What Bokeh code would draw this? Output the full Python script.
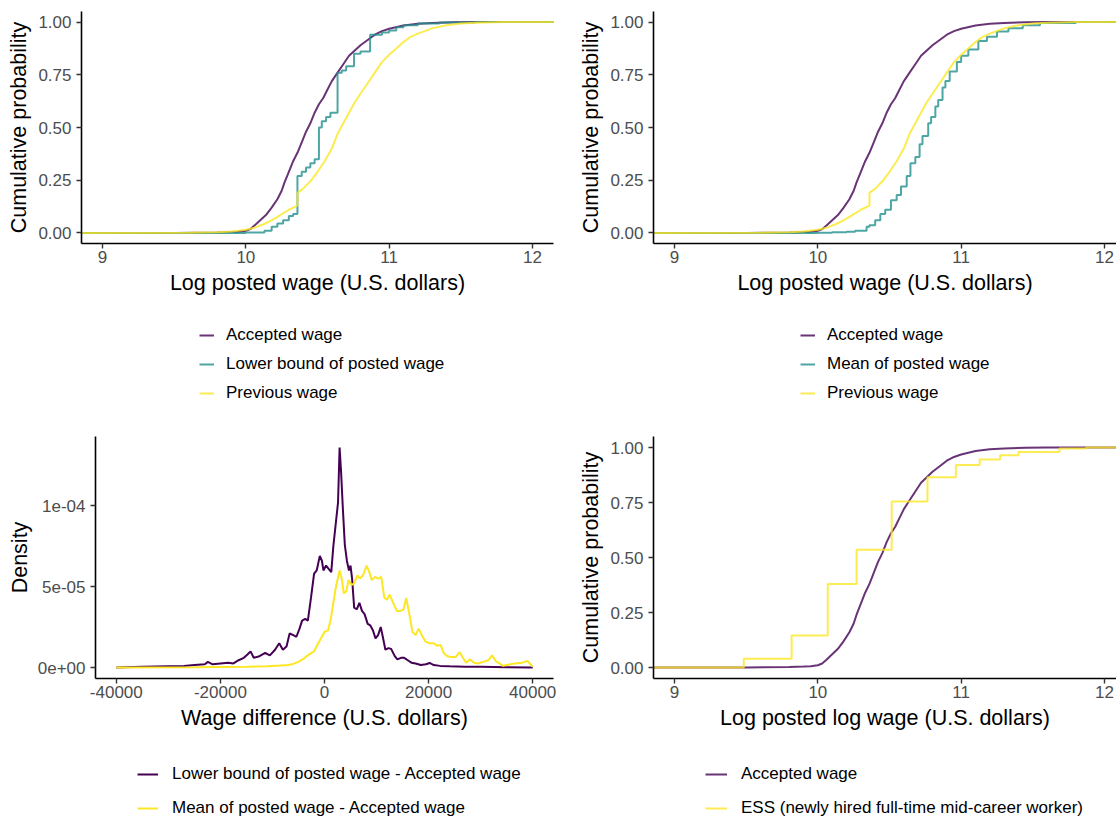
from bokeh.plotting import figure
from bokeh.models import Legend, LegendItem, FixedTicker, Range1d, CustomJSTickFormatter
from bokeh.layouts import column, row
from bokeh.embed import file_html
from bokeh.resources import INLINE

# ---------------- data ----------------
# Accepted wage ECDF (log wage)
acc_x = [9.5, 9.8, 9.9, 9.95, 10.0, 10.03, 10.06, 10.1, 10.14, 10.18, 10.22, 10.25, 10.27, 10.3,
         10.33, 10.36, 10.39, 10.42, 10.45, 10.48, 10.51, 10.54, 10.57, 10.6, 10.64, 10.68, 10.72,
         10.76, 10.8, 10.85, 10.9, 10.95, 11.0, 11.1, 11.2, 11.3, 11.45, 11.6, 11.9]
acc_y = [0.0, 0.002, 0.004, 0.006, 0.01, 0.018, 0.035, 0.06, 0.085, 0.12, 0.16, 0.2, 0.24, 0.29,
         0.34, 0.38, 0.43, 0.48, 0.52, 0.57, 0.61, 0.64, 0.68, 0.72, 0.76, 0.8, 0.84,
         0.865, 0.89, 0.915, 0.94, 0.957, 0.968, 0.984, 0.992, 0.996, 0.999, 1.0, 1.0]

# Lower bound of posted wage ECDF (step)
low_x = [10.0, 10.13, 10.18, 10.22, 10.26, 10.3, 10.33, 10.36, 10.39, 10.42, 10.45, 10.48, 10.51,
         10.53, 10.56, 10.59, 10.64, 10.67, 10.7, 10.755, 10.8, 10.867, 10.95, 11.0, 11.05, 11.1,
         11.2, 11.35, 11.6]
low_y = [0.002, 0.01, 0.03, 0.045, 0.06, 0.08, 0.09, 0.27, 0.29, 0.31, 0.33, 0.35, 0.5,
         0.53, 0.55, 0.57, 0.76, 0.77, 0.79, 0.85, 0.86, 0.94, 0.95, 0.96, 0.975, 0.985,
         0.993, 0.998, 1.0]

# Mean of posted wage ECDF (step)
mean_x = [10.0, 10.1, 10.2, 10.26, 10.34, 10.36, 10.4, 10.436, 10.47, 10.51, 10.55, 10.58, 10.62,
          10.646, 10.68, 10.71, 10.73, 10.77, 10.79, 10.82, 10.84, 10.87, 10.89, 10.92, 10.97,
          11.0, 11.05, 11.12, 11.18, 11.25, 11.33, 11.43, 11.55, 11.8]
mean_y = [0.001, 0.003, 0.006, 0.01, 0.03, 0.036, 0.06, 0.09, 0.11, 0.155, 0.18, 0.22, 0.27,
          0.33, 0.36, 0.42, 0.46, 0.52, 0.55, 0.6, 0.63, 0.69, 0.72, 0.765, 0.81,
          0.84, 0.87, 0.91, 0.93, 0.955, 0.97, 0.985, 0.995, 1.0]

# Previous wage ECDF
prev_x = [9.6, 9.8, 9.9, 10.0, 10.06, 10.12, 10.18, 10.24, 10.3, 10.36, 10.36, 10.4, 10.45, 10.5,
          10.55, 10.6, 10.64, 10.68, 10.72, 10.76, 10.8, 10.85, 10.9, 10.95, 11.0, 11.05, 11.1,
          11.15, 11.2, 11.3, 11.4, 11.5, 11.6, 11.8]
prev_y = [0.001, 0.003, 0.007, 0.015, 0.025, 0.04, 0.06, 0.085, 0.11, 0.13, 0.19, 0.21, 0.245, 0.29,
          0.34, 0.4, 0.47, 0.52, 0.57, 0.62, 0.66, 0.71, 0.76, 0.81, 0.845, 0.875, 0.905,
          0.93, 0.945, 0.97, 0.985, 0.993, 0.997, 1.0]

# ESS (newly hired full-time mid-career worker) ECDF (step)
ess_x = [9.483, 9.817, 10.069, 10.27, 10.515, 10.765, 10.963, 11.129, 11.272, 11.4, 11.686, 11.871]
ess_y = [0.04, 0.145, 0.38, 0.535, 0.755, 0.865, 0.92, 0.945, 0.965, 0.98, 0.995, 1.0]

# Density of wage differences
dlow_x = [-40000, -35000, -30000, -27000, -25000, -23000, -22400, -21500, -20000, -18500, -17500,
          -16500, -15500, -14800, -14200, -13600, -12500, -11400, -10500, -9500, -8700, -8000,
          -7300, -6700, -6000, -5400, -4800, -4300, -3700, -3200, -2600, -2000, -1500, -900, -500,
          -200, 300, 800, 1300, 1700, 2200, 2600, 2900, 3200, 3500, 3900, 4300, 4700, 5000, 5300,
          5700, 6200, 6700, 7200, 7700, 8300, 8800, 9300, 9800, 10300, 10800, 11200, 11700, 12300,
          12800, 13500, 14000, 14700, 15300, 16000, 16700, 17500, 18500, 19500, 20200, 21000,
          22200, 24000, 27000, 30000, 35000, 40000]
dlow_y = [0.0, 0.04, 0.08, 0.1, 0.15, 0.2, 0.35, 0.2, 0.25, 0.3, 0.25,
          0.45, 0.6, 0.8, 1.0, 0.6, 0.7, 0.9, 0.75, 1.1, 1.5, 1.1,
          1.3, 2.1, 2.0, 1.9, 2.4, 2.9, 3.0, 2.9, 4.3, 5.8, 6.0, 6.9, 6.6,
          6.0, 6.3, 6.1, 5.9, 7.5, 9.0, 10.2, 13.6, 12.0, 10.0, 7.6, 6.6, 6.0, 6.3, 5.5,
          3.7, 3.6, 4.0, 3.5, 3.3, 2.7, 2.6, 2.3, 1.8, 2.0, 2.5, 1.9, 1.1, 1.2,
          1.15, 0.7, 0.5, 0.6, 0.6, 0.45, 0.3, 0.25, 0.15, 0.2, 0.28, 0.15,
          0.1, 0.08, 0.05, 0.04, 0.02, 0.0]
dmean_x = [-40000, -25000, -20000, -15000, -11000, -8500, -7000, -6000, -5000, -4000, -3000, -2000,
           -1200, -500, 0, 700, 1200, 1700, 2200, 2900, 3300, 3700, 4200, 4600, 5200, 5700, 6300,
           6800, 7400, 8100, 8600, 9100, 9700, 10300, 10900, 11500, 12000, 12500, 13200, 13900,
           14600, 15200, 15700, 16300, 16900, 17500, 18100, 18700, 19400, 20200, 21000, 21600,
           22300, 22900, 23600, 24400, 25200, 26000, 26600, 27200, 28000, 28700, 29500, 30500,
           31500, 32200, 32900, 33600, 34300, 35000, 36500, 38000, 39000, 40000]
dmean_y = [0.0, 0.01, 0.03, 0.05, 0.08, 0.12, 0.15, 0.22, 0.35, 0.55, 0.8, 1.0,
           1.5, 1.9, 2.2, 2.3, 3.0, 4.0, 5.0, 6.0, 5.5, 4.6, 4.7, 5.4, 5.1, 5.2, 5.7,
           5.5, 5.7, 6.3, 5.9, 5.4, 5.6, 5.5, 5.6, 4.3, 4.2, 4.5, 4.0, 3.5,
           3.5, 3.6, 4.3, 3.3, 2.2, 2.0, 2.4, 2.0, 1.6, 1.5, 1.5, 1.35,
           1.4, 0.9, 0.7, 0.65, 0.65, 0.95, 0.6, 0.3, 0.5, 0.3, 0.25, 0.35,
           0.45, 0.75, 0.4, 0.25, 0.1, 0.15, 0.25, 0.3, 0.4, 0.05]
DENS_UNIT = 1e-5  # density values above are in units of 1e-5

# ticks and labels
logw_ticks = [9, 10, 11, 12]
logw_labels = ["9", "10", "11", "12"]
prob_ticks = [0.0, 0.25, 0.5, 0.75, 1.0]
prob_labels = ["0.00", "0.25", "0.50", "0.75", "1.00"]
diff_ticks = [-40000, -20000, 0, 20000, 40000]
diff_labels = ["-40000", "-20000", "0", "20000", "40000"]
dens_ticks = [0.0, 5e-05, 1e-04]
dens_labels = ["0e+00", "5e-05", "1e-04"]

PURPLE = "#440154"
TEAL = "#21908C"
YELLOW = "#FDE725"
FONT = "Liberation Sans"
LW = 2.0


def fmt(ticks, labels):
    return CustomJSTickFormatter(
        args=dict(tk=ticks, lb=labels),
        code="const i = tk.findIndex(t => Math.abs(t - tick) <= 1e-9 * Math.max(1, Math.abs(t))); return i >= 0 ? lb[i] : '';")


def make_fig(width, height, xr, yr, mbl, mbr, mbt, mbb, xlabel, ylabel,
             xt, xl, yt, yl, ylabel_standoff):
    p = figure(width=width, height=height, x_range=Range1d(*xr), y_range=Range1d(*yr),
               output_backend="svg", toolbar_location=None,
               min_border_left=mbl, min_border_right=mbr,
               min_border_top=mbt, min_border_bottom=mbb)
    p.grid.visible = False
    p.outline_line_color = None
    p.background_fill_color = "white"
    p.border_fill_color = "white"
    for ax in (p.xaxis[0], p.yaxis[0]):
        ax.axis_line_color = "black"
        ax.axis_line_width = 1.6
        ax.major_tick_line_color = "#333333"
        ax.major_tick_line_width = 1.4
        ax.major_tick_out = 5
        ax.major_tick_in = 0
        ax.minor_tick_line_color = None
        ax.major_label_text_font = FONT
        ax.major_label_text_font_size = "17px"
        ax.major_label_text_color = "#4D4D4D"
        ax.axis_label_text_font = FONT
        ax.axis_label_text_font_size = "21.5px"
        ax.axis_label_text_font_style = "normal"
        ax.axis_label_text_color = "black"
    p.xaxis.axis_label = xlabel
    p.yaxis.axis_label = ylabel
    p.xaxis.ticker = FixedTicker(ticks=xt)
    p.yaxis.ticker = FixedTicker(ticks=yt)
    p.xaxis.formatter = fmt(xt, xl)
    p.yaxis.formatter = fmt(yt, yl)
    p.xaxis.major_label_standoff = 2
    p.xaxis.axis_label_standoff = 5
    p.yaxis.major_label_standoff = 5
    p.yaxis.axis_label_standoff = ylabel_standoff
    return p


def legend_fig(width, height, mbl, mbr, entries, vx, vy, glyph_width, spacing, standoff):
    """Legend drawn in its own strip under a panel; keys use the same line styles."""
    lf = figure(width=width, height=height, x_range=Range1d(0, 1), y_range=Range1d(0, 1),
                output_backend="svg", toolbar_location=None,
                x_axis_location=None, y_axis_location=None,
                min_border_left=mbl, min_border_right=mbr, min_border_top=0, min_border_bottom=0)
    lf.grid.visible = False
    lf.outline_line_color = None
    lf.background_fill_color = "white"
    lf.border_fill_color = "white"
    items = []
    for label, color, alpha in entries:
        # key line lies outside the strip's visible range; only its legend key shows
        r = lf.line([-5, -4], [-5, -5], line_color=color, line_alpha=alpha, line_width=LW)
        items.append(LegendItem(label=label, renderers=[r]))
    leg = Legend(items=items, location=(vx, vy), orientation="vertical",
                 glyph_width=glyph_width, glyph_height=20, label_height=20,
                 spacing=spacing, padding=0, margin=0, label_standoff=standoff,
                 border_line_color=None, background_fill_alpha=0,
                 label_text_font=FONT, label_text_font_size="17px",
                 label_text_color="black")
    lf.add_layout(leg)
    return lf


X_LO, X_HI = 8.853, 12.147
X_HI_R = 12.084
Y_LO, Y_HI = -0.05, 1.05


def ecdf_pad(xs, ys, lo, hi):
    return [lo] + list(xs) + [hi], [0.0] + list(ys) + [1.0]


# ---------- top-left ----------
p1 = make_fig(560, 310, (X_LO, X_HI), (Y_LO, Y_HI), 81, 7, 11, 67,
              "Log posted wage (U.S. dollars)", "Cumulative probability",
              logw_ticks, logw_labels, prob_ticks, prob_labels, 4)
x, y = ecdf_pad(acc_x, acc_y, X_LO, X_HI)
p1.line(x, y, line_color=PURPLE, line_alpha=0.8, line_width=LW)
x, y = ecdf_pad(low_x, low_y, X_LO, X_HI)
p1.step(x, y, mode="after", line_color=TEAL, line_alpha=0.8, line_width=LW)
x, y = ecdf_pad(prev_x, prev_y, X_LO, X_HI)
p1.line(x, y, line_color=YELLOW, line_alpha=0.8, line_width=LW)
l1 = legend_fig(560, 100, 81, 7, [("Accepted wage", PURPLE, 0.8),
                                  ("Lower bound of posted wage", TEAL, 0.8),
                                  ("Previous wage", YELLOW, 0.8)], 118, 7, 15, 9, 12)

# ---------- top-right ----------
p2 = make_fig(556, 310, (X_LO, X_HI_R), (Y_LO, Y_HI), 93, 0, 11, 67,
              "Log posted wage (U.S. dollars)", "Cumulative probability",
              logw_ticks, logw_labels, prob_ticks, prob_labels, 4)
x, y = ecdf_pad(acc_x, acc_y, X_LO, X_HI)
p2.line(x, y, line_color=PURPLE, line_alpha=0.8, line_width=LW)
x, y = ecdf_pad(mean_x, mean_y, X_LO, X_HI)
p2.step(x, y, mode="after", line_color=TEAL, line_alpha=0.8, line_width=LW)
x, y = ecdf_pad(prev_x, prev_y, X_LO, X_HI)
p2.line(x, y, line_color=YELLOW, line_alpha=0.8, line_width=LW)
l2 = legend_fig(556, 100, 93, 0, [("Accepted wage", PURPLE, 0.8),
                                  ("Mean of posted wage", TEAL, 0.8),
                                  ("Previous wage", YELLOW, 0.8)], 147, 7, 15, 9, 12)

# ---------- bottom-left ----------
p3 = make_fig(560, 335, (-44000, 44000), (-6.8e-06, 1.428e-04), 95, 7, 26, 67,
              "Wage difference (U.S. dollars)", "Density",
              diff_ticks, diff_labels, dens_ticks, dens_labels, 3)
p3.line(dlow_x, [v * DENS_UNIT for v in dlow_y], line_color=PURPLE, line_width=LW)
p3.line(dmean_x, [v * DENS_UNIT for v in dmean_y], line_color=YELLOW, line_width=LW)
l3 = legend_fig(560, 76, 95, 7, [("Lower bound of posted wage - Accepted wage", PURPLE, 1.0),
                                 ("Mean of posted wage - Accepted wage", YELLOW, 1.0)],
                42, 3, 21, 14, 14)

# ---------- bottom-right ----------
p4 = make_fig(556, 335, (X_LO, X_HI_R), (Y_LO, Y_HI), 93, 0, 26, 67,
              "Log posted log wage (U.S. dollars)", "Cumulative probability",
              logw_ticks, logw_labels, prob_ticks, prob_labels, 4)
x, y = ecdf_pad(acc_x, acc_y, X_LO, X_HI)
p4.line(x, y, line_color=PURPLE, line_alpha=0.8, line_width=LW)
x, y = ecdf_pad(ess_x, ess_y, X_LO, X_HI)
p4.step(x, y, mode="after", line_color=YELLOW, line_alpha=0.8, line_width=LW)
l4 = legend_fig(556, 76, 93, 0, [("Accepted wage", PURPLE, 0.8),
                                 ("ESS (newly hired full-time mid-career worker)", YELLOW, 0.8)],
                52, 3, 22, 14, 14)

layout = column(row(column(p1, l1), column(p2, l2)), row(column(p3, l3), column(p4, l4)))
open("out.html", "w").write(file_html(layout, INLINE))
